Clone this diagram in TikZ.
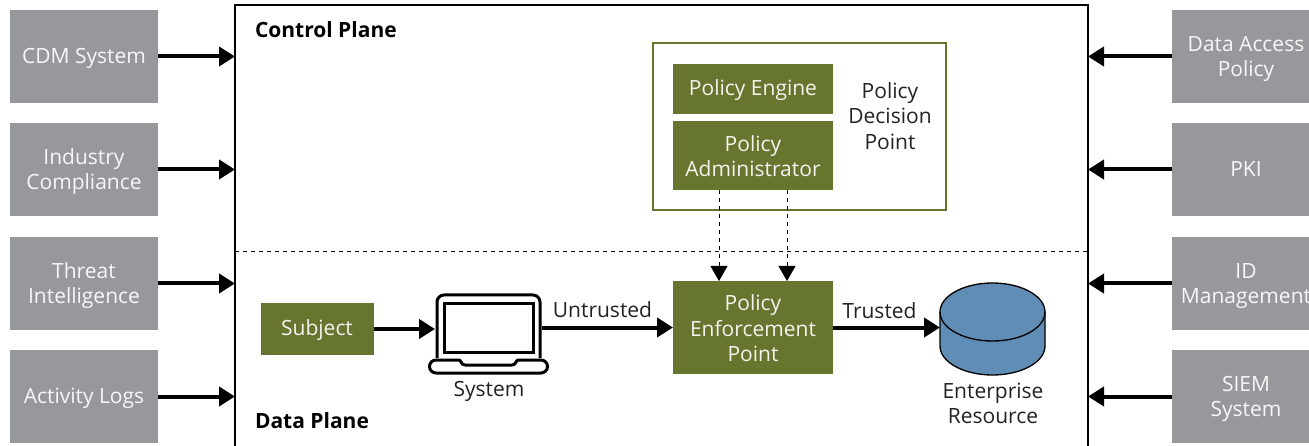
\documentclass[tikz,border=0pt]{standalone}
\usepackage{fontspec}
\setmainfont{Open Sans}
\usetikzlibrary{arrows.meta}
\definecolor{gbox}{HTML}{66762F}
\definecolor{gybox}{HTML}{97989C}
\definecolor{cyl}{HTML}{5F8DB5}
\definecolor{ink}{HTML}{222222}
\newcommand{\lowS}{\rule{0pt}{19pt}}
\newcommand{\lowM}{\rule{0pt}{20pt}}
\newcommand{\lowG}{\rule{0pt}{17.5pt}}
\tikzset{
  x=1pt,y=-1pt,
  every node/.style={outer sep=0pt},
  txt/.style={font=\fontsize{21}{25.5}\selectfont,align=center,inner sep=0pt,text=ink},
  src/.style={fill=gybox,draw=none,minimum width=148pt,minimum height=93pt,inner sep=0pt,text=white!92!gybox,align=center,font=\fontsize{21}{25.5}\selectfont},
  green/.style={fill=gbox,draw=none,inner sep=0pt,text=white!92!gbox,align=center,font=\fontsize{21}{25.5}\selectfont,minimum width=160pt},
  flow/.style={line width=4pt,-{Triangle[length=16pt,width=19pt]}},
  dashflow/.style={line width=0.9pt,dash pattern=on 4pt off 4pt,-{Triangle[length=15pt,width=17pt]}},
  head/.style={font=\fontsize{21}{25}\bfseries\selectfont,inner sep=0pt,anchor=west,text=black},
}
\begin{document}
\begin{tikzpicture}
\useasboundingbox (0,0) rectangle (1309,446);
\clip (0,0) rectangle (1309,446);
\node[draw=black,line width=2pt,minimum width=853pt,minimum height=470pt,inner sep=0pt,anchor=north west] (frame) at (235,5) {};
\coordinate (dl) at (frame.west |- 0,251);
\coordinate (dr) at (frame.east |- 0,251);
\draw[line width=0.9pt,dash pattern=on 4pt off 4pt] (dl) -- (dr);
\node[head] (cp) at (255,30) {Control Plane};
\node[head] (dp) at (255,421) {Data Plane};
% left
\node[src] (l1) at (84,56.5) {\lowS CDM System};
\node[src] (l2) at (84,169.5) {\lowM Industry\\Compliance};
\node[src] (l3) at (84,283.5) {\lowM Threat\\Intelligence};
\node[src] (l4) at (84,396.5) {\lowS Activity Logs};
% right
\node[src] (r1) at (1246,56.5) {\lowM Data Access\\Policy};
\node[src] (r2) at (1246,169.5) {PKI};
\node[src] (r3) at (1246,283.5) {\lowM ID\\Management};
\node[src] (r4) at (1246,396.5) {\lowM SIEM\\System};
\foreach \n in {l1,l2,l3,l4} \draw[flow] (\n.east) -- (\n.east -| frame.west);
\foreach \n in {r1,r2,r3,r4} \draw[flow] (\n.west) -- (\n.west -| frame.east);
% PDP
\node[draw=gbox,line width=2.5pt,fill=white,minimum width=293pt,minimum height=167pt,inner sep=0pt,anchor=north west] (pdp) at (653,43) {};
\node[green,minimum height=50pt] (pe) at (753,89) {\lowS Policy Engine};
\node[green,minimum height=69pt] (pa) at (753,155.5) {\lowG Policy\\Administrator};
\node[txt] (pdt) at (890,116) {Policy\\Decision\\Point};
% Data plane
\node[green,minimum width=113pt,minimum height=51pt] (subj) at (317,329) {\lowS Subject};
\node[green,minimum height=93pt] (pep) at (753,327.5) {\lowG Policy\\Enforcement\\Point};
% laptop
\node[inner sep=0pt,minimum width=107pt,minimum height=72pt,anchor=north west] (lap) at (435,293) {};
\draw[line width=3pt,line join=round] (437,358) -- (437,302) arc[start angle=180,end angle=270,radius=7] -- (533,295) arc[start angle=270,end angle=360,radius=7] -- (540,358);
\draw[line width=3pt] (444,304) rectangle (533,352);
\draw[line width=3pt,line join=round,fill=white] (437,360) -- (459,360) .. controls (461,360) and (461,365) .. (465,365) -- (512,365) .. controls (516,365) and (516,360) .. (518,360) -- (541,360) arc[start angle=-90,end angle=90,radius=6.5] -- (436,373) arc[start angle=90,end angle=270,radius=6.5] -- cycle;
\node[txt] (sys) at (489,391.5) {System};
% cylinder
\node[inner sep=0pt,minimum width=105pt,minimum height=93pt,anchor=north west] (res) at (940,282) {};
\draw[line width=1.3pt,fill=cyl] (940,312) -- (940,346) arc[x radius=52.5,y radius=29,start angle=180,end angle=0] -- (1045,312) arc[x radius=52.5,y radius=29,start angle=0,end angle=-180] -- cycle;
\draw[line width=1.3pt] (940,312) arc[x radius=52.5,y radius=29,start angle=180,end angle=0];
\node[txt] (rest) at (993,403.5) {Enterprise\\Resource};
% connectors
\draw[flow] (subj.east) -- (subj.east -| lap.west);
\draw[flow] (lap.east |- pep.west) -- (pep.west) node[midway,above=9.5pt,xshift=-5pt,txt] (ut) {Untrusted};
\draw[flow] (pep.east) -- (pep.east -| res.west) node[midway,above=9pt,xshift=-7pt,txt] (tr) {Trusted};
\coordinate (pa1) at (719,190);
\coordinate (pa2) at (787,190);
\draw[dashflow] (pa1) -- (pa1 |- pep.north);
\draw[dashflow] (pa2) -- (pa2 |- pep.north);
\end{tikzpicture}
\end{document}
